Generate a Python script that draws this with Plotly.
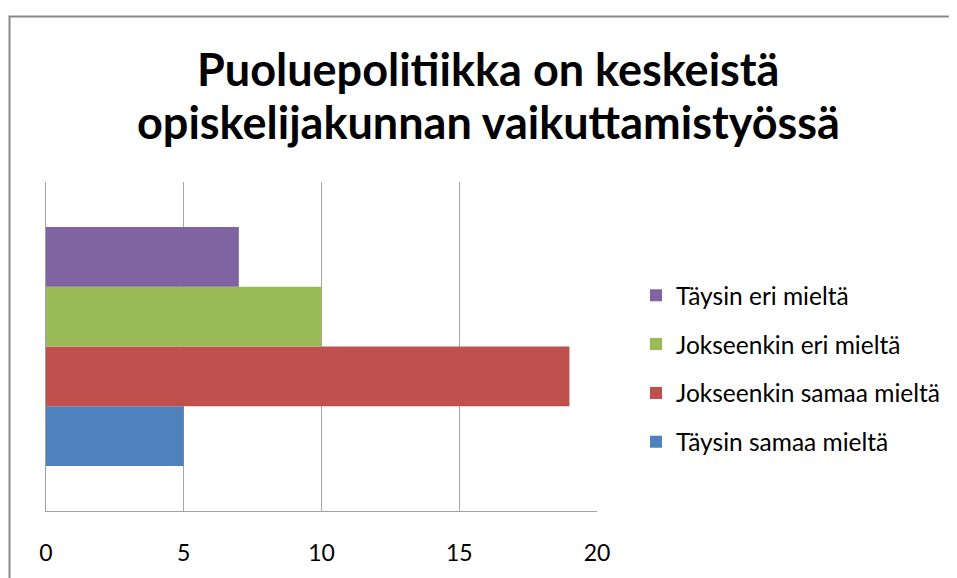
import plotly.graph_objects as go

# Data
category = ["Puoluepolitiikka"]
series_names = ["Täysin samaa mieltä", "Jokseenkin samaa mieltä",
                "Jokseenkin eri mieltä", "Täysin eri mieltä"]
series_values = [5, 19, 10, 7]
series_colors = ["#4F81BD", "#C0504D", "#9BBB59", "#8064A2"]
x_ticks = [0, 5, 10, 15, 20]
title_lines = ["Puoluepolitiikka on keskeistä", "opiskelijakunnan vaikuttamistyössä"]

# page body adds an 8px margin, so the figure is a bit smaller than the window
W, H = 949, 570
m_left, m_right, m_top, m_bottom = 38, 360, 174, 56
pw = W - m_left - m_right
ph = H - m_top - m_bottom


def px_x(x):
    return (x - m_left) / pw


def px_y(y):
    return (H - m_bottom - y) / ph


fig = go.Figure()

n = len(series_names)
for i, (name, val, col) in enumerate(zip(series_names, series_values, series_colors)):
    fig.add_trace(go.Bar(
        y=category,
        x=[val],
        name=name,
        orientation='h',
        marker=dict(color=col, line=dict(width=0)),
        legendgroup=name,
        legendrank=n - i,
    ))

# outer chart border (only top and left are visible)
fig.add_shape(type='rect', xref='paper', yref='paper',
              x0=px_x(1.5), x1=px_x(W + 20),
              y0=px_y(H + 20), y1=px_y(3),
              line=dict(color='#898989', width=2), layer='below')

# title, one annotation per line for tighter line spacing
for line, yc in zip(title_lines, [57, 112]):
    fig.add_annotation(
        text='<b>' + line + '</b>',
        xref='paper', yref='paper',
        x=px_x(480), y=px_y(yc),
        xanchor='center', yanchor='middle',
        showarrow=False,
        font=dict(family='Lato', size=45, color='#000000'),
    )

fig.update_layout(
    width=W, height=H,
    margin=dict(l=m_left, r=m_right, t=m_top, b=m_bottom),
    paper_bgcolor='white',
    plot_bgcolor='white',
    barmode='group',
    bargap=0.273,
    font=dict(family='Lato', color='#000000'),
    legend=dict(
        traceorder='grouped',
        x=px_x(628), xanchor='left',
        y=px_y(367), yanchor='middle',
        font=dict(family='Lato', size=24.5, color='#000000'),
        tracegroupgap=14,
        itemwidth=30,
    ),
    showlegend=True,
)

fig.update_xaxes(
    range=[0, 20],
    tickvals=x_ticks,
    showgrid=True, gridcolor='#A6A6A6', gridwidth=1,
    showline=True, linecolor='#A0A0A0', linewidth=1,
    zeroline=False,
    ticks='',
    ticklabelstandoff=21,
    tickfont=dict(family='Lato', size=23, color='#000000'),
)

fig.update_yaxes(
    showticklabels=False,
    showgrid=False,
    showline=True, linecolor='#A0A0A0', linewidth=1,
    ticks='',
)

fig.write_html('out.html')
